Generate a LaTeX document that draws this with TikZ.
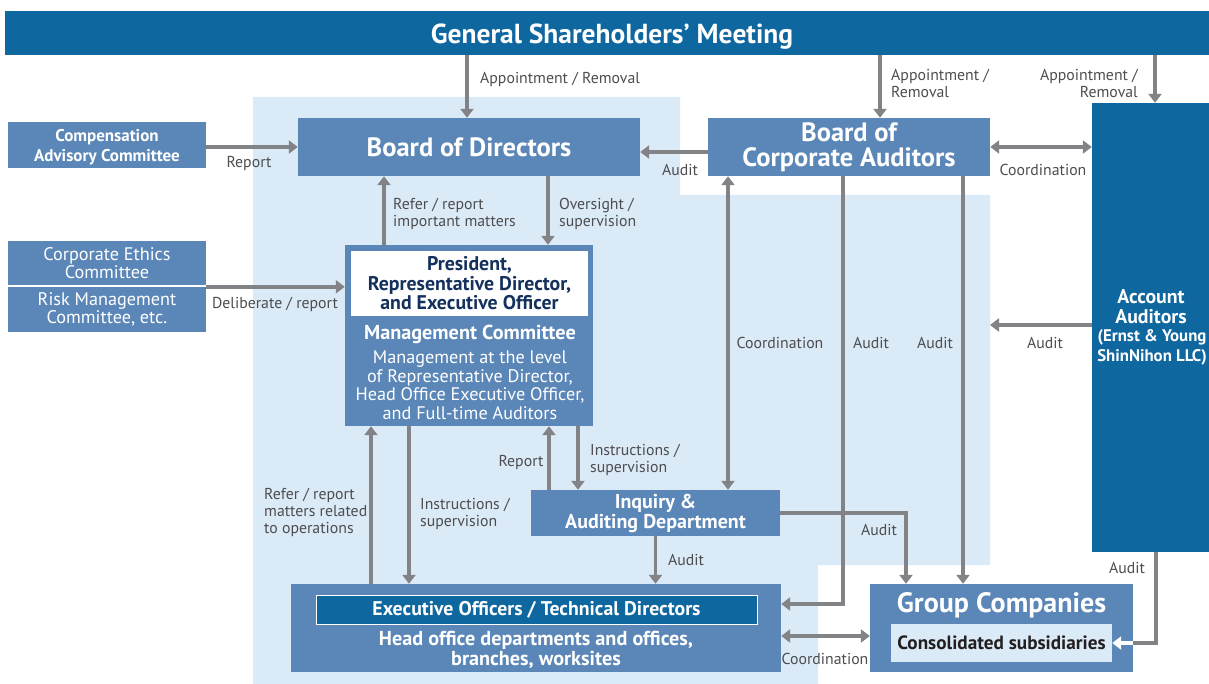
\documentclass[tikz,border=0pt]{standalone}
\usepackage{fontspec}
\setmainfont{PT Sans}
\usetikzlibrary{arrows.meta,calc}
\definecolor{darkblue}{HTML}{0F67A0}
\definecolor{midblue}{HTML}{5B87B8}
\definecolor{lightbg}{HTML}{DBEAF7}
\definecolor{arrgray}{HTML}{818386}
\definecolor{labgray}{HTML}{4D4D4F}
\definecolor{navy}{HTML}{13315C}
\definecolor{nearblack}{HTML}{231F20}
\newcommand{\fs}[2]{\fontsize{#1}{#2}\selectfont}
\tikzset{
  box/.style={fill=midblue, text=white, font=\bfseries\fs{17}{20}, align=center, inner sep=0pt},
  dbox/.style={fill=darkblue, text=white, font=\bfseries, align=center, inner sep=0pt},
  arr/.style={draw=arrgray, line width=3.6pt, -{Triangle[width=13pt,length=9pt]}},
  darr/.style={draw=arrgray, line width=3.6pt, {Triangle[width=13pt,length=9pt]}-{Triangle[width=13pt,length=9pt]}},
  plain/.style={draw=arrgray, line width=3.6pt},
  lab/.style={font=\fs{15.8}{17}, text=labgray, inner sep=0pt, align=left, yshift=-1.5pt},
}
\begin{document}
\begin{tikzpicture}[x=1pt,y=-1pt]
\useasboundingbox (0,0) rectangle (1209,684);
% light background region
\fill[lightbg] (253,97) -- (680,97) -- (680,195) -- (990,195) -- (990,565) -- (818,565) -- (818,684) -- (253,684) -- cycle;
\coordinate (lightR) at (990,325);

% boxes
\node[dbox, minimum width=1204pt, minimum height=44pt] (gsm) at (607,33) {};
\node[font=\bfseries\fs{27.5}{28}, text=white, inner sep=0pt] (gsmt) at (612,37) {General Shareholders’ Meeting};
\node[box, minimum width=198pt, minimum height=46pt] (comp) at (107,145) {};
\node[font=\bfseries\fs{17}{20}, text=white, align=center, inner sep=0pt] (compt) at (107,147) {Compensation\\Advisory Committee};
\node[box, minimum width=342pt, minimum height=58pt, font=\bfseries\fs{26.5}{27}] (bod) at (469,147) {Board of Directors};
\node[box, minimum width=282pt, minimum height=58pt, font=\bfseries\fs{26.5}{25}] (bca) at (849,147) {Board of\\Corporate Auditors};
\node[dbox, minimum width=117pt, minimum height=449pt] (acc) at (1150.5,327.5) {};
\node[font=\bfseries\fs{19.8}{20}, text=white, align=center, inner sep=0pt] (acct) at (1151,307) {Account\\Auditors};
\node[font=\bfseries\fs{16.8}{20}, text=white, align=center, inner sep=0pt] (acct2) at (1152,347) {(Ernst \& Young\\ShinNihon LLC)};
\node[box, minimum width=198pt, minimum height=44pt, font=\fs{18.2}{18.5}] (ethics) at (107,263) {Corporate Ethics\\Committee};
\node[box, minimum width=198pt, minimum height=45pt, font=\fs{18.2}{18.5}] (risk) at (107,309.5) {Risk Management\\Committee, etc.};
% president / management committee
\node[box, minimum width=248pt, minimum height=181pt] (pres) at (469,335.5) {};
\node[fill=white, minimum width=237pt, minimum height=65pt, inner sep=0pt, text=navy, font=\bfseries\fs{19.8}{19.5}, align=center] (presin) at (469.5,283.5) {President,\\Representative Director,\\and Executive Officer};
\node[font=\bfseries\fs{20.2}{20}, text=white, inner sep=0pt] (mgmt) at (470,334) {Management Committee};
\node[font=\fs{18.2}{18.5}, text=white, inner sep=0pt, align=center] (mgmt2) at (470,385) {Management at the level\\of Representative Director,\\Head Office Executive Officer,\\and Full-time Auditors};
% inquiry
\node[box, minimum width=249pt, minimum height=46pt, font=\bfseries\fs{20}{20}] (inq) at (655.5,513) {Inquiry \&\\Auditing Department};
% executive
\node[box, minimum width=490pt, minimum height=88pt] (exec) at (536,628) {};
\node[fill=darkblue, draw=white, line width=1pt, minimum width=441pt, minimum height=29pt, inner sep=0pt, text=white, font=\bfseries\fs{19.8}{20}] (execin) at (536.5,610) {Executive Officers / Technical Directors};
\node[font=\bfseries\fs{20.2}{20}, text=white, inner sep=0pt, align=center] (exect) at (536,650) {Head office departments and offices,\\branches, worksites};
% group companies
\node[box, minimum width=263pt, minimum height=88pt] (grp) at (1001.5,628) {};
\node[font=\bfseries\fs{28}{28}, text=white, inner sep=0pt] (grpt) at (1001.5,605) {Group Companies};
\node[fill=lightbg, minimum width=221pt, minimum height=38pt, inner sep=0pt, text=nearblack, font=\bfseries\fs{19.2}{20}] (cons) at (1001.5,643) {Consolidated subsidiaries};

% connectors
\draw[arr] ([xshift=-2pt]bod.north |- gsm.south) -- ([xshift=-2pt]bod.north);
\draw[arr] ([xshift=31pt]bca.north |- gsm.south) -- ([xshift=31pt]bca.north);
\draw[arr] ([xshift=4.5pt]acc.north |- gsm.south) -- ([xshift=4.5pt]acc.north);
\draw[arr] (comp.east |- bod.west) -- (bod.west);
\draw[arr] ([yshift=-5pt]bca.west) -- ([yshift=-5pt]bca.west -| bod.east);
\draw[darr] (bca.east) -- (bca.east -| acc.west);
\draw[arr] ([xshift=-85pt]pres.north) -- ([xshift=-85pt]pres.north |- bod.south);
\draw[arr] ([xshift=79pt]bod.south) -- ([xshift=79pt]bod.south |- pres.north);
\draw[arr] (risk.north east) -- (risk.north east -| pres.west);
\draw[arr] (acc.west |- lightR) -- (lightR);
\draw[darr] ([xshift=-121pt]bca.south) -- ([xshift=-121pt]bca.south |- inq.north);
\draw[arr] ([xshift=-6pt]bca.south) |- ([yshift=24pt]exec.east);
\draw[arr] ([xshift=114pt]bca.south) -- ([xshift=114pt]bca.south |- grp.north);
\draw[arr] (inq.east) -| ([xshift=-95.5pt]grp.north);
\draw[arr] (inq.south) -- (inq.south |- exec.north);
\draw[arr] ([xshift=109pt]pres.south) -- ([xshift=109pt]pres.south |- inq.north);
\draw[arr] ([xshift=80pt]pres.south |- inq.north) -- ([xshift=80pt]pres.south);
\draw[arr] ([xshift=-98pt]pres.south |- exec.north) -- ([xshift=-98pt]pres.south);
\draw[arr] ([xshift=-60pt]pres.south) -- ([xshift=-60pt]pres.south |- exec.north);
\draw[darr] ([yshift=-8pt]exec.east) -- ([yshift=-8pt]exec.east -| grp.west);
\draw[plain] ([xshift=5.5pt]acc.south) |- (cons.east -| grp.east);
\draw[draw=white, line width=3.6pt, -{Triangle[width=13pt,length=9pt]}] (cons.east -| grp.east) -- (cons.east);

% labels
\node[lab, anchor=west] (l1) at (480,78) {Appointment / Removal};
\node[lab, anchor=west] (l2) at (891,82) {Appointment /\\Removal};
\node[lab, anchor=east, align=right] (l3) at (1138,82) {Appointment /\\Removal};
\node[lab] (l4) at (249,162) {Report};
\node[lab] (l5) at (680,168) {Audit};
\node[lab] (l6) at (1043,168) {Coordination};
\node[lab, anchor=west] (l7) at (393,212) {Refer / report\\important matters};
\node[lab, anchor=west] (l8) at (559,212) {Oversight /\\supervision};
\node[lab] (l9) at (275,303) {Deliberate / report};
\node[lab] (l10) at (1045,341) {Audit};
\node[lab] (l11) at (780,341) {Coordination};
\node[lab] (l12) at (871,341) {Audit};
\node[lab] (l13) at (935,341) {Audit};
\node[lab] (l14) at (879,528) {Audit};
\node[lab] (l15) at (686,558) {Audit};
\node[lab, anchor=west] (l16) at (590,458) {Instructions /\\supervision};
\node[lab] (l17) at (521,461) {Report};
\node[lab, anchor=west] (l18) at (264,511) {Refer / report\\matters related\\to operations};
\node[lab, anchor=west] (l19) at (420,512) {Instructions /\\supervision};
\node[lab] (l20) at (825,657) {Coordination};
\node[lab] (l21) at (1127,566) {Audit};
\end{tikzpicture}
\end{document}
